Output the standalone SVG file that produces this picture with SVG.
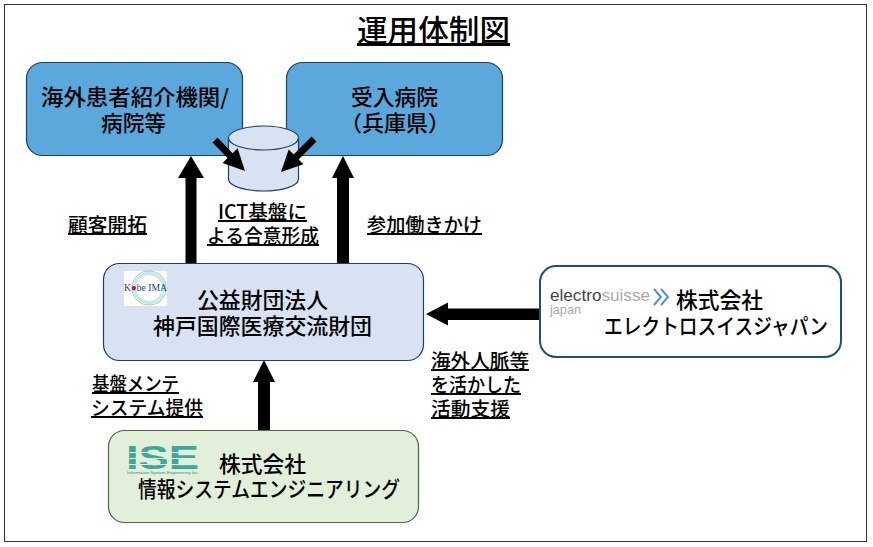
<svg xmlns="http://www.w3.org/2000/svg" width="873" height="547" viewBox="0 0 873 547">
<style>
text{font-family:"Noto Sans CJK JP","Liberation Sans",sans-serif;font-weight:500;fill:#000;font-size:21.500px}
.l{text-decoration:underline;font-size:19.500px}
.b{stroke:#1f3f63;stroke-width:1.2}
.c{fill:#000;stroke:none}
</style>
<rect width="873" height="547" fill="#fff"/>
<rect x="4.500" y="4.500" width="862" height="537" fill="#fff" stroke="#333" stroke-width="1"/>
<text x="357" y="41" textLength="153" lengthAdjust="spacingAndGlyphs" style="font-size:30px;text-decoration:underline">運用体制図</text>
<g id="node-overseas"><rect class="b" x="26.500" y="62.500" width="216" height="93" rx="16" fill="#5aa8dc"/><text x="41" y="105" textLength="188" lengthAdjust="spacingAndGlyphs">海外患者紹介機関/</text><text x="101" y="131" textLength="65" lengthAdjust="spacingAndGlyphs">病院等</text></g>
<g id="node-hospital"><rect class="b" x="286.500" y="62.500" width="216" height="93" rx="16" fill="#5aa8dc"/><text x="351" y="105" textLength="87" lengthAdjust="spacingAndGlyphs">受入病院</text><text x="340" y="131" textLength="110" lengthAdjust="spacingAndGlyphs">（兵庫県）</text></g>
<g id="node-db"><path d="M228.500 138v41c0 7 16 12 35 12s35-5 35-12v-41z" fill="#d9e2f3" stroke="#1f3f63" stroke-width="1.200"/><ellipse cx="263.500" cy="138" rx="35" ry="12" fill="#d9e2f3" stroke="#1f3f63" stroke-width="1.200"/></g>
<g id="connectors">
<path class="c" d="M185.500 263V178H178L191 156L204 178H196.500V263Z"/>
<path class="c" d="M337 263V178H332L343 156L354 178H349V263Z"/>
<path class="c" d="M258 430V382H253L264 360L275 382H270V430Z"/>
<path class="c" d="M540 308.500V320H448V325.500L426 314L448 302.500V308.500Z"/>
<path class="c" d="M217.500 137.600L232.600 153.200L237.600 148.300L245 171L222.600 162.900L227.600 158L212.500 142.400Z"/>
<path class="c" d="M316.500 141.500L298.600 159.400L303.500 164.300L281 172L288.700 149.500L293.600 154.400L311.500 136.500Z"/>
</g>
<g id="node-kobe"><rect class="b" x="103.500" y="263.500" width="320" height="97" rx="16" fill="#d9e2f3"/>
<rect x="124" y="271" width="43" height="35" fill="#fff"/><circle cx="149" cy="288" r="14.500" fill="none" stroke="#c2ece4" stroke-width="3"/><circle cx="149" cy="288" r="17" fill="none" stroke="#7a8a90" stroke-width=".6"/><text x="124" y="291" textLength="43" lengthAdjust="spacingAndGlyphs" style="font-family:'Liberation Serif',serif;font-size:10.500px;fill:#1c3f78">K<tspan fill="#c2185b">●</tspan>be IMA</text>
<text x="197" y="308" textLength="131" lengthAdjust="spacingAndGlyphs">公益財団法人</text><text x="153" y="334" textLength="219" lengthAdjust="spacingAndGlyphs">神戸国際医療交流財団</text></g>
<g id="node-electrosuisse"><rect x="540" y="266" width="301" height="91" rx="16" fill="#fff" stroke="#1f4e79" stroke-width="2"/>
<text x="550" y="301" textLength="100" lengthAdjust="spacingAndGlyphs" style="font-family:'Liberation Sans',sans-serif;font-size:17px;fill:#444">electro<tspan fill="#aaa">suisse</tspan></text><path d="M654 289l7 8-7 8M661 289l7 8-7 8" fill="none" stroke="#4f94cf" stroke-width="2"/><text x="550" y="314" textLength="31" lengthAdjust="spacingAndGlyphs" style="font-family:'Liberation Sans',sans-serif;font-size:12px;fill:#aaa">japan</text>
<text x="676" y="308" textLength="87" lengthAdjust="spacingAndGlyphs">株式会社</text><text x="604" y="334" textLength="224" lengthAdjust="spacingAndGlyphs">エレクトロスイスジャパン</text></g>
<g id="node-ise"><rect x="108.500" y="430.500" width="310" height="92" rx="16" fill="#e2efd9" stroke="#49684a" stroke-width="1.200"/>
<text x="126" y="469" textLength="73" lengthAdjust="spacingAndGlyphs" style="font-family:'Liberation Sans',sans-serif;font-size:33px;font-weight:700;fill:#3fa89a">ISE</text>
<path d="M124 452.500H202M124 458.500H202M124 464.500H202" stroke="#e2efd9" stroke-width="1"/>
<text x="127" y="474" textLength="72" lengthAdjust="spacingAndGlyphs" style="font-family:'Liberation Sans',sans-serif;font-size:3.500px;fill:#3f8a80">Information System Engineering Inc.</text>
<text x="219" y="472" textLength="87" lengthAdjust="spacingAndGlyphs">株式会社</text><text x="138" y="497" textLength="262" lengthAdjust="spacingAndGlyphs">情報システムエンジニアリング</text></g>
<g id="labels">
<text class="l" x="68" y="232" textLength="79" lengthAdjust="spacingAndGlyphs">顧客開拓</text>
<text class="l" x="218" y="219" textLength="89" lengthAdjust="spacingAndGlyphs">ICT基盤に</text><text class="l" x="207" y="243" textLength="112" lengthAdjust="spacingAndGlyphs">よる合意形成</text>
<text class="l" x="367" y="232" textLength="115" lengthAdjust="spacingAndGlyphs">参加働きかけ</text>
<text class="l" x="92" y="391" textLength="87" lengthAdjust="spacingAndGlyphs">基盤メンテ</text><text class="l" x="91" y="415" textLength="112" lengthAdjust="spacingAndGlyphs">システム提供</text>
<text class="l" x="431" y="368" textLength="98" lengthAdjust="spacingAndGlyphs">海外人脈等</text><text class="l" x="431" y="392" textLength="90" lengthAdjust="spacingAndGlyphs">を活かした</text><text class="l" x="431" y="416" textLength="79" lengthAdjust="spacingAndGlyphs">活動支援</text>
</g>
</svg>
